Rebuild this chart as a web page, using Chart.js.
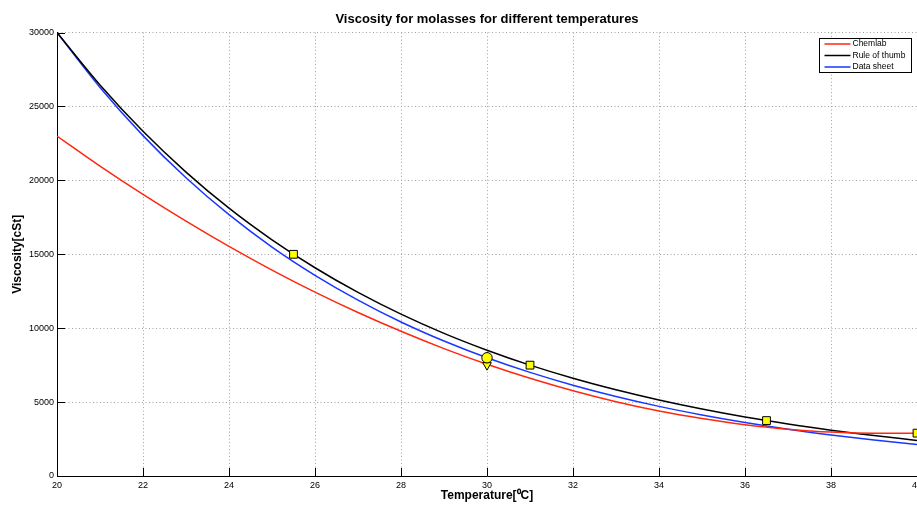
<!DOCTYPE html>
<html>
<head>
<meta charset="utf-8">
<script src="https://cdn.jsdelivr.net/npm/chart.js@4.4.0/dist/chart.umd.min.js"></script>
<style>
  html, body { margin: 0; padding: 0; background: #fff; }
</style>
</head>
<body>
<canvas id="chartViscosidad" width="917" height="506"></canvas>
<script>
// datos
const temperaturas = [20, 21, 22, 23, 24, 25, 26, 27, 28, 29, 30, 31, 32, 33, 34, 35, 36, 37, 38, 39, 40];
const chemlab     = [23000, 20970, 19050, 17240, 15530, 13930, 12440, 11060, 9790, 8620, 7560, 6610, 5770, 5030, 4400, 3890, 3470, 3170, 2970, 2890, 2900];
const reglaPulgar = [30000, 26450, 23320, 20560, 18120, 15980, 14090, 12420, 10950, 9650, 8510, 7500, 6610, 5830, 5140, 4530, 3990, 3520, 3100, 2740, 2410];
const hojaDatos   = [30000, 26290, 23030, 20180, 17680, 15490, 13580, 11900, 10420, 9130, 8000, 7010, 6140, 5380, 4710, 4130, 3620, 3170, 2780, 2430, 2130];

const cuadradosX = [25.5, 31, 36.5, 40];
const cuadradosY = [15000, 7500, 3750, 2900];
const circuloX = [30];
const circuloY = [8000];
const trianguloX = [30];
const trianguloY = [7500];

const ticksY = [0, 5000, 10000, 15000, 20000, 25000, 30000];
const ticksX = [20, 22, 24, 26, 28, 30, 32, 34, 36, 38, 40];

const fuente = "'Liberation Sans', Arial, Helvetica, sans-serif";

function puntos(xs, ys) {
  return xs.map((x, i) => ({ x: x, y: ys[i] }));
}

// ticks hacia dentro, como en matlab
const ticksInternos = {
  id: "ticksInternos",
  afterDraw(chart) {
    const ctx = chart.ctx;
    const area = chart.chartArea;
    const sx = chart.scales.x;
    const sy = chart.scales.y;
    ctx.save();
    ctx.strokeStyle = "#000";
    ctx.lineWidth = 1;
    ctx.beginPath();
    sy.ticks.forEach((t) => {
      const y = Math.round(sy.getPixelForValue(t.value)) + 0.5;
      ctx.moveTo(area.left, y);
      ctx.lineTo(area.left + 8, y);
    });
    sx.ticks.forEach((t) => {
      const x = Math.round(sx.getPixelForValue(t.value)) + 0.5;
      ctx.moveTo(x, area.bottom);
      ctx.lineTo(x, area.bottom - 8);
    });
    ctx.stroke();
    ctx.restore();
  },
};

// leyenda con caja
const leyendaCaja = {
  id: "leyendaCaja",
  afterDraw(chart) {
    const ctx = chart.ctx;
    const area = chart.chartArea;
    const series = chart.data.datasets.filter((d) => d.enLeyenda);
    const w = 92, h = 34;
    const x0 = Math.round(area.right - 6 - w) + 0.5;
    const y0 = Math.round(area.top + 5) + 0.5;
    ctx.save();
    ctx.fillStyle = "#fff";
    ctx.fillRect(x0, y0, w, h);
    ctx.strokeStyle = "#000";
    ctx.lineWidth = 1;
    ctx.strokeRect(x0, y0, w, h);
    ctx.font = "8.5px " + fuente;
    ctx.textBaseline = "middle";
    ctx.textAlign = "left";
    series.forEach((d, i) => {
      const y = y0 + 5.5 + i * 11.5;
      ctx.strokeStyle = d.borderColor;
      ctx.lineWidth = 1.5;
      ctx.beginPath();
      ctx.moveTo(x0 + 5, y);
      ctx.lineTo(x0 + 31, y);
      ctx.stroke();
      ctx.fillStyle = "#000";
      ctx.fillText(d.label, x0 + 33, y);
    });
    ctx.restore();
  },
};

const estiloMarcador = {
  type: "scatter",
  showLine: false,
  backgroundColor: "#ffff00",
  borderColor: "#000",
  borderWidth: 1,
  order: 1,
};

const ctx = document.getElementById("chartViscosidad").getContext("2d");
new Chart(ctx, {
  type: "line",
  data: {
    datasets: [
      {
        label: "Chemlab",
        data: puntos(temperaturas, chemlab),
        borderColor: "rgb(255, 40, 15)",
        borderWidth: 1.5,
        pointRadius: 0,
        cubicInterpolationMode: "monotone",
        enLeyenda: true,
        order: 2,
      },
      {
        label: "Rule of thumb",
        data: puntos(temperaturas, reglaPulgar),
        borderColor: "#000",
        borderWidth: 1.5,
        pointRadius: 0,
        cubicInterpolationMode: "monotone",
        enLeyenda: true,
        order: 2,
      },
      {
        label: "Data sheet",
        data: puntos(temperaturas, hojaDatos),
        borderColor: "rgb(25, 55, 255)",
        borderWidth: 1.5,
        pointRadius: 0,
        cubicInterpolationMode: "monotone",
        enLeyenda: true,
        order: 2,
      },
      Object.assign({}, estiloMarcador, {
        label: "cuadrados",
        data: puntos(cuadradosX, cuadradosY),
        pointStyle: "rect",
        pointRadius: 5.5,
      }),
      Object.assign({}, estiloMarcador, {
        label: "circulo",
        data: puntos(circuloX, circuloY),
        pointStyle: "circle",
        pointRadius: 5.2,
      }),
      Object.assign({}, estiloMarcador, {
        label: "triangulo",
        data: puntos(trianguloX, trianguloY),
        pointStyle: "triangle",
        rotation: 180,
        pointRadius: 5,
      }),
    ],
  },
  options: {
    responsive: false,
    animation: false,
    devicePixelRatio: 1,
    layout: { padding: 0, autoPadding: false },
    plugins: {
      legend: { display: false },
      tooltip: { enabled: false },
      title: {
        display: true,
        text: "Viscosity for molasses for different temperatures",
        fullSize: false,
        color: "#000",
        font: { family: fuente, size: 13, weight: "bold" },
        padding: { top: 12, bottom: 5 },
      },
    },
    scales: {
      x: {
        type: "linear",
        min: 20,
        max: 40,
        afterBuildTicks(scale) {
          scale.ticks = ticksX.map((v) => ({ value: v }));
        },
        afterFit(scale) {
          scale.height = 30;
          scale.paddingLeft = 0;
          scale.paddingRight = 0;
        },
        ticks: {
          color: "#000",
          font: { family: fuente, size: 9 },
          padding: 4,
          maxRotation: 0,
          autoSkip: false,
        },
        grid: {
          color: "#a0a0a0",
          lineWidth: 1,
          drawTicks: false,
        },
        border: { display: true, color: "#000", width: 1, dash: [1, 2.5] },
        title: {
          display: true,
          text: "Temperature[\u2070C]",
          color: "#000",
          font: { family: fuente, size: 12, weight: "bold" },
          padding: { top: 0, bottom: 3 },
        },
      },
      y: {
        type: "linear",
        min: 0,
        max: 30000,
        afterBuildTicks(scale) {
          scale.ticks = ticksY.map((v) => ({ value: v }));
        },
        afterFit(scale) {
          scale.width = 57;
          scale.paddingTop = 0;
          scale.paddingBottom = 0;
        },
        ticks: {
          color: "#000",
          font: { family: fuente, size: 9 },
          padding: 3,
          callback: (v) => String(v),
        },
        grid: {
          color: "#a0a0a0",
          lineWidth: 1,
          drawTicks: false,
        },
        border: { display: true, color: "#000", width: 1, dash: [1, 2.5] },
        title: {
          display: true,
          text: "Viscosity[cSt]",
          color: "#000",
          font: { family: fuente, size: 12, weight: "bold" },
          padding: { top: 10, bottom: 0 },
        },
      },
    },
  },
  plugins: [ticksInternos, leyendaCaja],
});
</script>
</body>
</html>
